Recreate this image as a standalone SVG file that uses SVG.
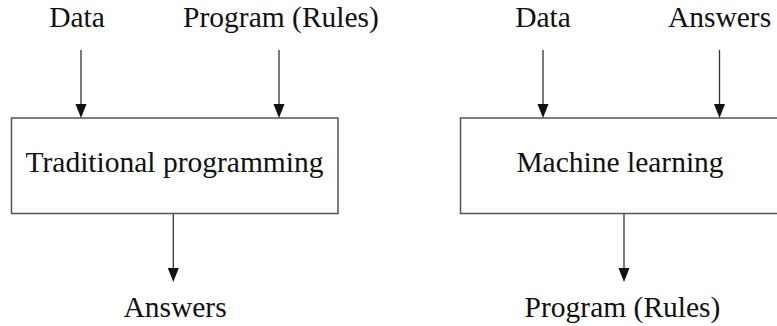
<svg xmlns="http://www.w3.org/2000/svg" width="777" height="326" viewBox="0 0 777 326">
<defs>
<style>
.t{font-family:"Liberation Serif","Times New Roman",serif;font-size:29.5px;fill:#111;text-anchor:middle}
.box{fill:#fff;stroke:#555;stroke-width:1.5}
.ln{stroke:#333;stroke-width:1.3;fill:none}
.hd{fill:#111}
</style>
</defs>
<rect width="777" height="326" fill="#fff"/>
<g id="tp-data"><text class="t" x="77" y="27">Data</text></g>
<g id="tp-program"><text class="t" x="281" y="27">Program (Rules)</text></g>
<g id="tp-box"><rect class="box" x="11.5" y="118" width="326.5" height="95.5"/><text class="t" x="174.5" y="172">Traditional programming</text></g>
<g id="tp-answers"><text class="t" x="175" y="317">Answers</text></g>
<g id="ml-data"><text class="t" x="543" y="27">Data</text></g>
<g id="ml-answers"><text class="t" x="719.5" y="27">Answers</text></g>
<g id="ml-box"><rect class="box" x="460.5" y="118" width="330" height="95.5"/><text class="t" x="620" y="172">Machine learning</text></g>
<g id="ml-program"><text class="t" x="622.5" y="317">Program (Rules)</text></g>
<g id="connectors">
<line class="ln" x1="81" y1="50" x2="81" y2="106"/><path class="hd" d="M75.5,104 L86.5,104 L81,118 Z"/>
<line class="ln" x1="279" y1="50" x2="279" y2="106"/><path class="hd" d="M273.5,104 L284.5,104 L279,118 Z"/>
<line class="ln" x1="173.3" y1="214" x2="173.3" y2="270"/><path class="hd" d="M167.8,268 L178.8,268 L173.3,282 Z"/>
<line class="ln" x1="543" y1="50" x2="543" y2="106"/><path class="hd" d="M537.5,104 L548.5,104 L543,118 Z"/>
<line class="ln" x1="719.5" y1="50" x2="719.5" y2="106"/><path class="hd" d="M714,104 L725,104 L719.5,118 Z"/>
<line class="ln" x1="624" y1="214" x2="624" y2="270"/><path class="hd" d="M618.5,268 L629.5,268 L624,282 Z"/>
</g>
</svg>
